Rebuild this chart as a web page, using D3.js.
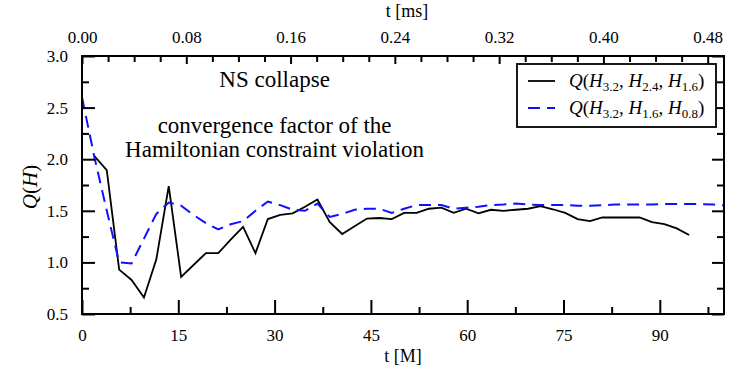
<!DOCTYPE html>
<html>
  <head>
    <meta charset="utf-8" />
    <title>Q(H) convergence factor</title>
    <script src="https://d3js.org/d3.v7.min.js"></script>
  </head>
  <body style="margin:0">
      <svg id="viz"></svg>

    <script>

        // time samples [M]
        var timeBlack = [1.93, 3.86, 5.79, 7.72, 9.65, 11.58, 13.51, 15.44, 17.37, 19.30,
                         21.23, 23.16, 25.09, 27.02, 28.95, 30.88, 32.81, 34.74, 36.67, 38.60,
                         40.53, 42.46, 44.39, 46.32, 48.25, 50.18, 52.11, 54.04, 55.97, 57.90,
                         59.83, 61.76, 63.69, 65.62, 67.55, 69.48, 71.41, 73.34, 75.27, 77.20,
                         79.13, 81.06, 82.99, 84.92, 86.85, 88.78, 90.71, 92.64, 94.57];
        var qBlack = [2.03, 1.895, 0.93, 0.83, 0.66, 1.03, 1.74, 0.86, 0.975, 1.09,
                      1.09, 1.22, 1.345, 1.09, 1.42, 1.46, 1.475, 1.54, 1.61, 1.39,
                      1.275, 1.35, 1.425, 1.43, 1.42, 1.48, 1.48, 1.52, 1.53, 1.48,
                      1.52, 1.475, 1.51, 1.50, 1.51, 1.52, 1.545, 1.515, 1.48, 1.42,
                      1.40, 1.435, 1.435, 1.437, 1.435, 1.39, 1.37, 1.33, 1.265];

        var timeBlue = [0, 1.93, 3.86, 5.79, 7.72, 9.65, 11.58, 13.51, 15.44, 17.37, 19.30,
                        21.23, 23.16, 25.09, 27.02, 28.95, 30.88, 32.81, 34.74, 36.67, 38.60,
                        40.53, 42.46, 44.39, 46.32, 48.25, 50.18, 52.11, 54.04, 55.97, 57.90,
                        59.83, 61.76, 63.69, 65.62, 67.55, 69.48, 71.41, 73.34, 75.27, 77.20,
                        79.13, 81.06, 82.99, 84.92, 86.85, 88.78, 90.71, 92.64, 94.57, 96.50,
                        98.43, 100.36];
        var qBlue = [2.60, 2.02, 1.50, 1.00, 0.99, 1.23, 1.47, 1.58, 1.55, 1.46, 1.38,
                     1.32, 1.37, 1.40, 1.50, 1.59, 1.555, 1.51, 1.50, 1.57, 1.44,
                     1.47, 1.51, 1.52, 1.52, 1.48, 1.52, 1.555, 1.555, 1.555, 1.52,
                     1.53, 1.54, 1.555, 1.56, 1.57, 1.56, 1.555, 1.555, 1.555, 1.55,
                     1.55, 1.555, 1.56, 1.56, 1.56, 1.56, 1.565, 1.565, 1.565, 1.565,
                     1.56, 1.55];

        var xTicks = [0, 15, 30, 45, 60, 75, 90];
        var xMinor = [7.5, 22.5, 37.5, 52.5, 67.5, 82.5, 97.5];
        var yTicks = [0.5, 1.0, 1.5, 2.0, 2.5, 3.0];
        var yMinor = [0.75, 1.25, 1.75, 2.25, 2.75];
        var msTicks = [0.00, 0.08, 0.16, 0.24, 0.32, 0.40, 0.48];
        var msMinor = [0.02, 0.04, 0.06, 0.10, 0.12, 0.14, 0.18, 0.20, 0.22, 0.26, 0.28, 0.30,
                       0.34, 0.36, 0.38, 0.42, 0.44, 0.46];
        var msPerM = 0.004925;

        var notes = ["NS collapse", "convergence factor of the", "Hamiltonian constraint violation"];

        var serif = "'Liberation Serif'";
        var width = 747, height = 374;
        var margin = {top: 56, right: 23, bottom: 60, left: 82};
        var w = width - margin.left - margin.right;
        var h = height - margin.top - margin.bottom;

        var svg = d3.select("#viz")
            .attr("width", width)
            .attr("height", height);

        var g = svg.append("g")
            .attr("transform", "translate(" + margin.left + "," + margin.top + ")");

        var x = d3.scaleLinear().domain([0, 100]).range([0, w]);
        var xTop = d3.scaleLinear().domain([0, 100 * msPerM]).range([0, w]);
        var y = d3.scaleLinear().domain([0.5, 3.0]).range([h, 0]);

        g.append("clipPath").attr("id", "clip")
            .append("rect").attr("width", w).attr("height", h);

        // lines
        var line = d3.line()
            .x(function (d) { return x(d[0]); })
            .y(function (d) { return y(d[1]); });

        g.append("path")
            .datum(d3.zip(timeBlack, qBlack))
            .attr("clip-path", "url(#clip)")
            .attr("fill", "none")
            .attr("stroke", "black")
            .attr("stroke-width", 1.8)
            .attr("d", line);

        g.append("path")
            .datum(d3.zip(timeBlue, qBlue))
            .attr("clip-path", "url(#clip)")
            .attr("fill", "none")
            .attr("stroke", "#1010ff")
            .attr("stroke-width", 2)
            .attr("stroke-dasharray", "12,7")
            .attr("d", line);

        // axes
        function styleAxis(sel) {
            sel.attr("font-family", null).attr("font-size", null);
            sel.select(".domain").remove();
            sel.selectAll("line").attr("stroke", "black").attr("stroke-width", 2);
            sel.selectAll("text")
                .attr("fill", "black")
                .style("font-family", serif)
                .style("font-size", "17px");
        }

        g.append("g").attr("transform", "translate(0," + h + ")")
            .call(d3.axisBottom(x).tickValues(xTicks).tickFormat(d3.format("d"))
                .tickSizeInner(-14).tickSizeOuter(0).tickPadding(15))
            .call(styleAxis);
        g.append("g").attr("transform", "translate(0," + h + ")")
            .call(d3.axisBottom(x).tickValues(xMinor).tickFormat("")
                .tickSizeInner(-7).tickSizeOuter(0))
            .call(styleAxis);

        g.append("g")
            .call(d3.axisTop(xTop).tickValues(msTicks).tickFormat(d3.format(".2f"))
                .tickSizeInner(-8).tickSizeOuter(0).tickPadding(13))
            .call(styleAxis);
        g.append("g")
            .call(d3.axisTop(xTop).tickValues(msMinor).tickFormat("")
                .tickSizeInner(-6).tickSizeOuter(0))
            .call(styleAxis);

        g.append("g")
            .call(d3.axisLeft(y).tickValues(yTicks).tickFormat(d3.format(".1f"))
                .tickSizeInner(-13).tickSizeOuter(0).tickPadding(14))
            .call(styleAxis);
        g.append("g")
            .call(d3.axisLeft(y).tickValues(yMinor).tickFormat("")
                .tickSizeInner(-7).tickSizeOuter(0))
            .call(styleAxis);

        g.append("g").attr("transform", "translate(" + w + ",0)")
            .call(d3.axisRight(y).tickValues(yTicks).tickFormat("")
                .tickSizeInner(-12).tickSizeOuter(0))
            .call(styleAxis);
        g.append("g").attr("transform", "translate(" + w + ",0)")
            .call(d3.axisRight(y).tickValues(yMinor).tickFormat("")
                .tickSizeInner(-7).tickSizeOuter(0))
            .call(styleAxis);

        // frame
        g.append("rect")
            .attr("width", w).attr("height", h)
            .attr("fill", "none")
            .attr("stroke", "black")
            .attr("stroke-width", 2);

        // axis titles
        svg.append("text")
            .attr("x", margin.left + w / 2).attr("y", 362)
            .attr("text-anchor", "middle")
            .style("font-family", serif)
            .style("font-size", "18px")
            .text("t [M]");

        svg.append("text")
            .attr("x", margin.left + w / 2 + 4).attr("y", 17)
            .attr("text-anchor", "middle")
            .style("font-family", serif)
            .style("font-size", "18px")
            .text("t [ms]");

        var yl = svg.append("text")
            .attr("transform", "translate(37," + (margin.top + h / 2 + 2) + ") rotate(-90)")
            .attr("text-anchor", "middle")
            .style("font-family", serif)
            .style("font-size", "21px");
        yl.append("tspan").style("font-style", "italic").text("Q");
        yl.append("tspan").text("(");
        yl.append("tspan").style("font-style", "italic").text("H");
        yl.append("tspan").text(")");

        // annotation
        var noteY = [87, 133, 157];
        g.selectAll(".note").data(notes).enter()
            .append("text")
            .attr("class", "note")
            .attr("x", x(30))
            .attr("y", function (d, i) { return noteY[i] - margin.top; })
            .attr("text-anchor", "middle")
            .style("font-family", serif)
            .style("font-size", "23px")
            .text(function (d) { return d; });

        // legend
        var legendItems = [
            {subs: ["3.2", "2.4", "1.6"], color: "black", dash: null, width: 1.8},
            {subs: ["3.2", "1.6", "0.8"], color: "#1010ff", dash: "12,7", width: 2}
        ];

        var leg = svg.append("g").attr("transform", "translate(517,64)");
        leg.append("rect")
            .attr("width", 199).attr("height", 63)
            .attr("fill", "white")
            .attr("stroke", "black")
            .attr("stroke-width", 1.8);

        var rows = leg.selectAll(".row").data(legendItems).enter()
            .append("g")
            .attr("transform", function (d, i) { return "translate(0," + (17 + i * 27) + ")"; });

        rows.append("line")
            .attr("x1", 11).attr("x2", 38)
            .attr("stroke", function (d) { return d.color; })
            .attr("stroke-width", function (d) { return d.width; })
            .attr("stroke-dasharray", function (d) { return d.dash; });

        rows.each(function (d) {
            var t = d3.select(this).append("text")
                .attr("x", 52).attr("y", 6)
                .style("font-family", serif)
                .style("font-size", "19px");
            t.append("tspan").style("font-style", "italic").text("Q");
            t.append("tspan").text("(");
            d.subs.forEach(function (s, i) {
                t.append("tspan").style("font-style", "italic").text("H");
                t.append("tspan").attr("dy", 4).style("font-size", "13px").text(s);
                t.append("tspan").attr("dy", -4).text(i < 2 ? ", " : ")");
            });
        });

    </script>
  </body>
</html>
